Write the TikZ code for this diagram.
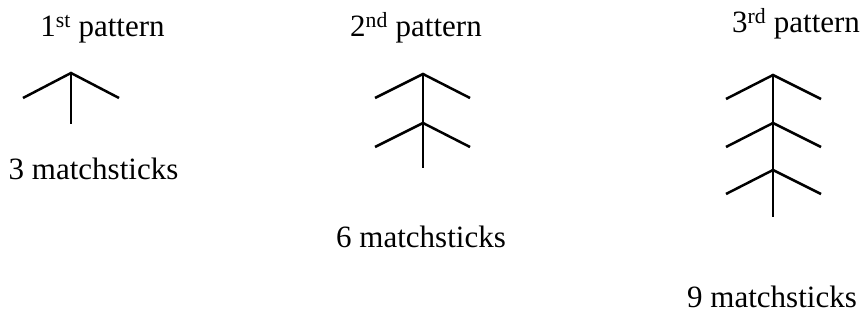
\documentclass[tikz,border=0pt]{standalone}
\usepackage{fontspec}
\setmainfont{Liberation Serif}
\begin{document}
\begin{tikzpicture}[x=1pt,y=-1pt,
  stick/.style={line width=2.5pt},
  lbl/.style={anchor=base, inner sep=0pt, font=\fontsize{31}{37}\selectfont}]
\useasboundingbox (0,0) rectangle (862,321);
% labels
\node[lbl] (p1) at (102.5,37) {1\textsuperscript{st} pattern};
\node[lbl] (m1) at (93.5,179) {3 matchsticks};
\node[lbl] (p2) at (416,37) {2\textsuperscript{nd} pattern};
\node[lbl] (m2) at (421,247) {6 matchsticks};
\node[lbl] (p3) at (796,33) {3\textsuperscript{rd} pattern};
\node[lbl] (m3) at (772,307) {9 matchsticks};
% pattern 1
\draw[stick] (71,73) -- (71,124);
\foreach \y in {73} \draw[stick] (23,\y+25) -- (71,\y) -- (119,\y+25);
% pattern 2
\draw[stick] (423,74) -- (423,168);
\foreach \y in {74,123} \draw[stick] (375,\y+24) -- (423,\y) -- (470,\y+24);
% pattern 3
\draw[stick] (773,75) -- (773,217);
\foreach \y in {75,123,170} \draw[stick] (726,\y+24) -- (773,\y) -- (821,\y+24);
\end{tikzpicture}
\end{document}
